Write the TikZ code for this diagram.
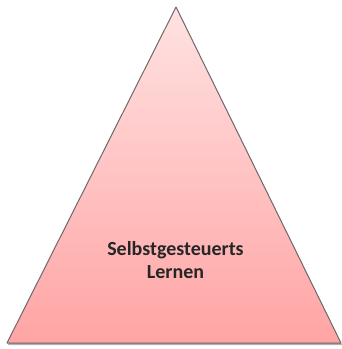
\documentclass[tikz,border=0pt]{standalone}
\usepackage{fontspec}
\setmainfont{Carlito}
\usepackage{tikz}
\usepackage{xcolor}
\usetikzlibrary{positioning, calc}
\definecolor{PyrTop}{HTML}{FFE2E2}
\definecolor{PyrBottom}{HTML}{FFA4A4}
\definecolor{PyrEdge}{HTML}{6E6868}

\begin{document}
\begin{tikzpicture}[x=1pt, y=-1pt]
\useasboundingbox (0,0) rectangle (342,349);
% Corners
\coordinate (apex) at (176,7);
\coordinate (left) at (7,343);
\coordinate (right) at (341,343);
% Shadow
\fill[black, opacity=0.3] ($(apex)+(1,2)$) -- ($(left)+(1,2)$) -- ($(right)+(1,2)$) -- cycle;
% Triangle
\shade[top color=PyrTop, bottom color=PyrBottom] (apex) -- (left) -- (right) -- cycle;
\draw[PyrEdge, line width=1pt, line join=round] (apex) -- (left) -- (right) -- cycle;
% Label
\node[align=center, font=\fontsize{20}{23}\selectfont\bfseries, text=black!85] (label) at (175.5,260) {Selbstgesteuerts\\Lernen};
\end{tikzpicture}
\end{document}
